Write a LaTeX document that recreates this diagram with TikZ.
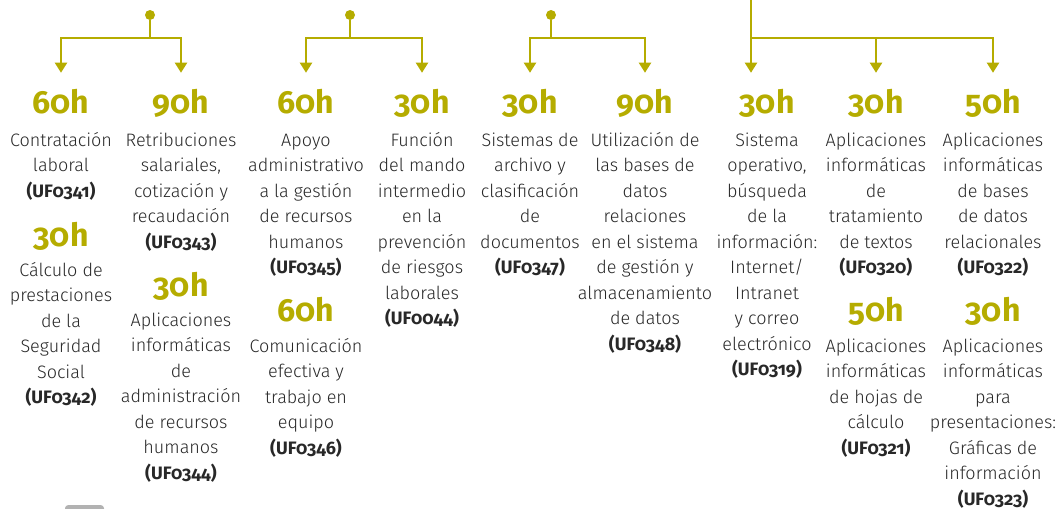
\documentclass[tikz,border=0pt]{standalone}
\usepackage{fontspec}
\setmainfont{Fira Sans Light}[Numbers=OldStyle, BoldFont=Fira Sans Bold]
\newfontfamily\hourfont{Fira Sans Bold}[Numbers=OldStyle]
\usetikzlibrary{arrows.meta}
\definecolor{ufolive}{RGB}{181,172,0}
\definecolor{ufgray}{RGB}{40,40,40}

\begin{document}
\begin{tikzpicture}[x=0.75pt,y=-0.75pt,
  hub/.style={circle,fill=ufolive,inner sep=0pt,minimum size=7.5pt},
  link/.style={ufolive,line width=1.5pt,-{Triangle[width=9pt,length=7.5pt]}},
  hour/.style={anchor=base,inner sep=0pt,outer ysep=12pt,text=ufolive,
    font=\hourfont\fontsize{24}{24}\selectfont},
  unit/.style={anchor=base,inner sep=0pt,align=center,text=ufgray,
    font=\fontsize{13.5}{19.1}\selectfont}]
\useasboundingbox (0,0) rectangle (1059,508);

% column 1 (units sit on the baseline of their last line)
\node[hour] (h11) at (61,113) {60h};
\node[unit] (u11) at (61,197) {Contratación\\laboral\\\textbf{(UF0341)}};
\node[hour] (h12) at (61,246) {30h};
\node[unit] (u12) at (61,403.5) {Cálculo de\\prestaciones\\de la\\Seguridad\\Social\\\textbf{(UF0342)}};
% column 2
\node[hour] (h21) at (181,113) {90h};
\node[unit] (u21) at (181,248) {Retribuciones\\salariales,\\cotización y\\recaudación\\\textbf{(UF0343)}};
\node[hour] (h22) at (181,296) {30h};
\node[unit] (u22) at (181,479) {Aplicaciones\\informáticas\\de\\administración\\de recursos\\humanos\\\textbf{(UF0344)}};
% column 3
\node[hour] (h31) at (306,113) {60h};
\node[unit] (u31) at (306,273.5) {Apoyo\\administrativo\\a la gestión\\de recursos\\humanos\\\textbf{(UF0345)}};
\node[hour] (h32) at (306,321) {60h};
\node[unit] (u32) at (306,454) {Comunicación\\efectiva y\\trabajo en\\equipo\\\textbf{(UF0346)}};
% column 4
\node[hour] (h41) at (422,113) {30h};
\node[unit] (u41) at (422,324.5) {Función\\del mando\\intermedio\\en la\\prevención\\de riesgos\\laborales\\\textbf{(UF0044)}};
% column 5
\node[hour] (h51) at (530,113) {30h};
\node[unit] (u51) at (530,273.5) {Sistemas de\\archivo y\\clasificación\\de\\documentos\\\textbf{(UF0347)}};
% column 6
\node[hour] (h61) at (645,113) {90h};
\node[unit] (u61) at (645,350) {Utilización de\\las bases de\\datos\\relaciones\\en el sistema\\de gestión y\\almacenamiento\\de datos\\\textbf{(UF0348)}};
% column 7
\node[hour] (h71) at (767,113) {30h};
\node[unit] (u71) at (767,375.5) {Sistema\\operativo,\\búsqueda\\de la\\información:\\Internet/\\Intranet\\y correo\\electrónico\\\textbf{(UF0319)}};
% column 8
\node[hour] (h81) at (876,113) {30h};
\node[unit] (u81) at (876,273.5) {Aplicaciones\\informáticas\\de\\tratamiento\\de textos\\\textbf{(UF0320)}};
\node[hour] (h82) at (876,321) {50h};
\node[unit] (u82) at (876,454) {Aplicaciones\\informáticas\\de hojas de\\cálculo\\\textbf{(UF0321)}};
% column 9
\node[hour] (h91) at (993,113) {50h};
\node[unit] (u91) at (993,273.5) {Aplicaciones\\informáticas\\de bases\\de datos\\relacionales\\\textbf{(UF0322)}};
\node[hour] (h92) at (993,321) {30h};
\node[unit] (u92) at (993,505) {Aplicaciones\\informáticas\\para\\presentaciones:\\Gráficas de\\información\\\textbf{(UF0323)}};

% branches
\node[hub] (d1) at (150,15) {};
\node[hub] (d2) at (350,15) {};
\node[hub] (d3) at (551,15) {};
\coordinate (top4) at (751,0);
\draw[link] (d1) -- ++(0,23) -| (h11);
\draw[link] (d1) -- ++(0,23) -| (h21);
\draw[link] (d2) -- ++(0,23) -| (h31);
\draw[link] (d2) -- ++(0,23) -| (h41);
\draw[link] (d3) -- ++(0,23) -| (h51);
\draw[link] (d3) -- ++(0,23) -| (h61);
\draw[link] (top4) -- (top4 |- h71.north);
\draw[link] (top4) -- ++(0,38) -| (h81);
\draw[link] (top4) -- ++(0,38) -| (h91);

\fill[gray!60,rounded corners=2.5pt] (65,505) rectangle (104,520);
\end{tikzpicture}
\end{document}
